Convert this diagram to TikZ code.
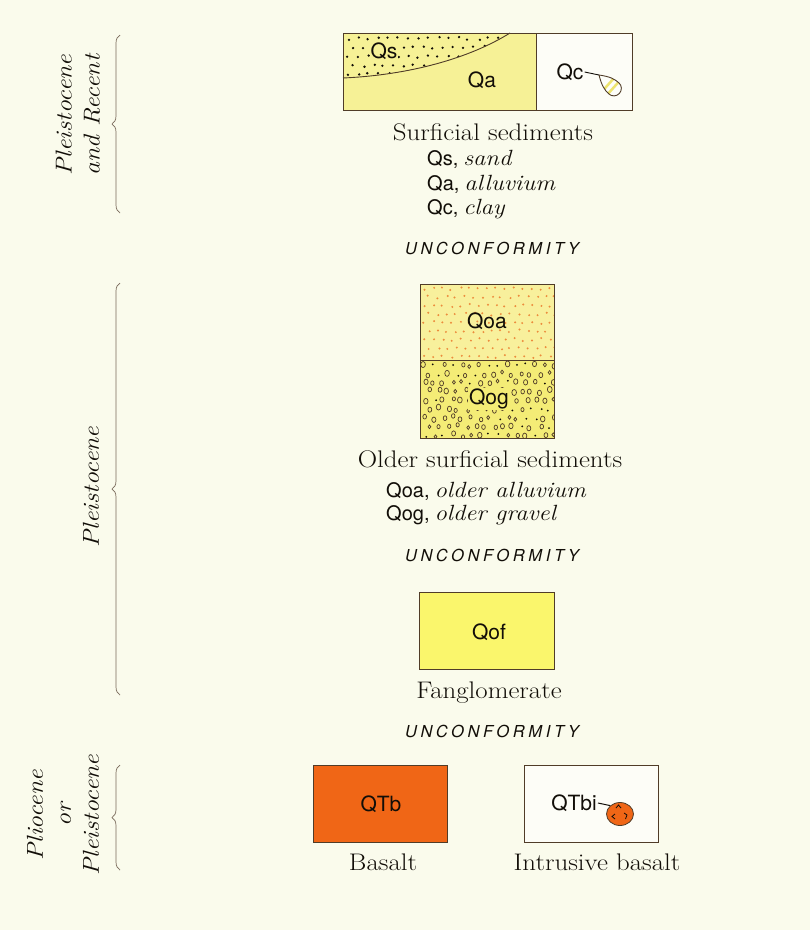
\documentclass[tikz,border=0pt]{standalone}
\usepackage{fontspec}
\usepackage{graphicx}
\usetikzlibrary{decorations.pathreplacing,shapes.geometric}
\newfontfamily\hv{TeX Gyre Heros}
\newfontfamily\hvsp[LetterSpace=22]{TeX Gyre Heros}
\definecolor{bg}{RGB}{250,251,236}
\definecolor{ink}{RGB}{18,14,8}
\definecolor{edge}{RGB}{80,60,40}
\definecolor{bracec}{RGB}{120,105,90}
\definecolor{qa}{RGB}{246,241,150}
\definecolor{qoa}{RGB}{248,240,156}
\definecolor{qodot}{RGB}{236,140,60}
\definecolor{qog}{RGB}{244,236,118}
\definecolor{qof}{RGB}{250,246,108}
\definecolor{qtb}{RGB}{240,102,22}
\definecolor{qcstripe}{RGB}{238,228,110}
\newcommand\hwide[1]{\scalebox{1.12}[1]{#1}}
\newcommand\dsans[1]{{\hv\fontsize{20}{22}\selectfont #1}}
\newcommand\dital[1]{\hspace{5pt}\scalebox{1.12}[1]{\fontsize{22}{24}\selectfont\itshape #1}}
\newcommand\agewide[1]{\scalebox{1.12}[1]{#1}}
\tikzset{
  unitbox/.style={draw=edge, line width=0.8pt},
  boxlabel/.style={font=\hv\fontsize{21}{23}\selectfont, text=ink, inner sep=0},
  head/.style={font=\fontsize{24}{27}\selectfont, text=ink, inner sep=0, anchor=base},
  desc/.style={anchor=base west, inner sep=0, text=ink},
  unc/.style={font=\hvsp\itshape\fontsize{16.5}{19}\selectfont, text=ink, inner sep=0, anchor=base},
  agelabel/.style={rotate=90, align=center, font=\itshape\fontsize{23}{28}\selectfont, text=ink, inner sep=0},
  agebrace/.style={draw=bracec, line width=0.7pt, decorate, decoration={brace, amplitude=8pt}}
}
\begin{document}
\begin{tikzpicture}[x=1pt,y=-1pt]
\fill[bg] (0,0) rectangle (810,930);
\useasboundingbox (0,0) rectangle (810,930);

% ---------- Surficial sediments box ----------
\fill[qa] (343,33) rectangle (536,110);
\fill[white!60!bg] (536,33) rectangle (632,110);
\begin{scope}
  \clip (343,33) -- (343,78) .. controls (410,75) and (470,58) .. (510,33) -- cycle;
  \pgfmathsetseed{11}
  \foreach \i in {0,...,16}{
    \foreach \j in {0,...,4}{
      \pgfmathsetmacro\px{347+10*\i+5*mod(\j,2)+3*rnd}
      \pgfmathsetmacro\py{37+9*\j+3*rnd}
      \fill[ink] (\px,\py) circle (1.3pt);
    }
  }
\end{scope}
\draw[edge, line width=0.9pt] (343,78) .. controls (410,75) and (470,58) .. (510,33);
\draw[unitbox] (343,33) rectangle (632,110);
\draw[unitbox] (536,33) -- (536,110);
\node[boxlabel, fill=qa, inner sep=1pt] (qs) at (384,51) {Qs};
\node[boxlabel] (qa) at (482,80) {Qa};
\node[boxlabel] (qc) at (570,72) {Qc};
% clay lens
\begin{scope}[shift={(599,75)}, rotate=-42]
  \coordinate (lensTip) at (0,0);
  \fill[white!70!bg] (0,0) .. controls (9,-6) and (14,-7.5) .. (20,-7.5)
     arc[start angle=90, end angle=-90, radius=7.5pt] .. controls (14,7.5) and (9,6) .. (0,0);
  \begin{scope}
    \clip (0,0) .. controls (9,-6) and (14,-7.5) .. (20,-7.5)
       arc[start angle=90, end angle=-90, radius=7.5pt] .. controls (14,7.5) and (9,6) .. (0,0);
    \fill[qcstripe] (12,-9) rectangle (14.5,9);
    \fill[qcstripe] (18,-9) rectangle (20.5,9);
  \end{scope}
  \draw[edge, line width=0.9pt] (0,0) .. controls (9,-6) and (14,-7.5) .. (20,-7.5)
     arc[start angle=90, end angle=-90, radius=7.5pt] .. controls (14,7.5) and (9,6) .. (0,0);
\end{scope}
\draw[ink, line width=0.9pt] (qc.east) ++(1,0) coordinate (qcl) (qcl) -- (lensTip);

\node[head] (surf) at (493,140) {\hwide{Surficial sediments}};
\node[desc] (d1) at (427,165) {\dsans{Qs,}\dital{sand}};
\node[desc] (d2) at (427,190) {\dsans{Qa,}\dital{alluvium}};
\node[desc] (d3) at (427,214) {\dsans{Qc,}\dital{clay}};
\node[unc] (u1) at (492,254) {UNCONFORMITY};

% ---------- Older surficial sediments ----------
\fill[qoa] (420,284) rectangle (554,360);
\fill[qog] (420,360) rectangle (554,438);
\begin{scope}
  \clip (420,284) rectangle (554,360);
  \pgfmathsetseed{5}
  \foreach \i in {0,...,14}{
    \foreach \j in {0,...,8}{
      \pgfmathsetmacro\px{423+9*\i+4.5*mod(\j,2)+3*rnd}
      \pgfmathsetmacro\py{287+8.5*\j+3*rnd}
      \fill[qodot] (\px,\py) circle (1.1pt);
    }
  }
\end{scope}
\begin{scope}
  \clip (420,360) rectangle (554,438);
  \pgfmathsetseed{23}
  \foreach \i in {0,...,14}{
    \foreach \j in {0,...,8}{
      \pgfmathsetmacro\px{423+9.2*\i+4.6*mod(\j,2)+4*rnd}
      \pgfmathsetmacro\py{363+8.8*\j+4*rnd}
      \pgfmathsetmacro\rr{1.4+1.0*rnd}
      \pgfmathsetmacro\ry{1.3*\rr}
      \pgfmathsetmacro\kind{rnd}
      \ifdim\kind pt<0.25pt
        \fill[ink] (\px,\py) circle (1.0pt);
      \else
        \draw[edge, line width=0.7pt] (\px,\py) ellipse [x radius=\rr pt, y radius=\ry pt];
      \fi
    }
  }
\end{scope}
\draw[unitbox] (420,284) rectangle (554,438);
\draw[unitbox] (420,360) -- (554,360);
\node[boxlabel] (qoa) at (487,321) {Qoa};
\node[boxlabel, fill=qog, inner sep=1pt] (qog) at (489,399) {Qog};

\node[head] (older) at (490,467) {\hwide{Older surficial sediments}};
\node[desc] (d4) at (386,497) {\dsans{Qoa,}\dital{older alluvium}};
\node[desc] (d5) at (386,520) {\dsans{Qog,}\dital{older gravel}};
\node[unc] (u2) at (492,561) {UNCONFORMITY};

% ---------- Fanglomerate ----------
\fill[qof] (419,592) rectangle (554,669);
\draw[unitbox] (419,592) rectangle (554,669);
\node[boxlabel] (qof) at (489,632) {Qof};
\node[head] (fang) at (489,698) {\hwide{Fanglomerate}};
\node[unc] (u3) at (492,737) {UNCONFORMITY};

% ---------- Basalt ----------
\fill[qtb] (313,765) rectangle (447,842);
\draw[unitbox] (313,765) rectangle (447,842);
\node[boxlabel] (qtb) at (381,804) {QTb};
\node[head] (bas) at (383,870) {\hwide{Basalt}};

\fill[white!60!bg] (524,765) rectangle (658,842);
\draw[unitbox] (524,765) rectangle (658,842);
\node[boxlabel] (qtbi) at (574,803) {QTbi};
\node[draw=edge, fill=qtb, line width=0.8pt, ellipse, minimum width=27pt, minimum height=23pt, inner sep=0] (blob) at (620,814) {};
\draw[ink, line width=0.8pt] (616,808) -- (618.5,805) -- (621,808);
\draw[ink, line width=0.8pt] (615,814) -- (612,816.5) -- (615,819);
\draw[ink, line width=0.8pt] (624,813) -- (627,815) -- (625.5,819);
\draw[ink, line width=1pt] (qtbi.east) ++(1,0) coordinate (qtl) (qtl) -- (blob.north west);
\node[head] (intr) at (597,870) {\hwide{Intrusive basalt}};

% ---------- Age braces ----------
\coordinate (b1s) at (120,213); \coordinate (b1e) at (120,35);
\draw[agebrace] (b1s) -- (b1e);
\node[agelabel] (age1) at (78,115) {\agewide{Pleistocene}\\\agewide{and Recent}};
\coordinate (b2s) at (120,695); \coordinate (b2e) at (120,283);
\draw[agebrace] (b2s) -- (b2e);
\node[agelabel] (age2) at (91,487) {\agewide{Pleistocene}};
\coordinate (b3s) at (120,870); \coordinate (b3e) at (120,765);
\draw[agebrace] (b3s) -- (b3e);
\node[agelabel] (age3) at (63,815) {\agewide{Pliocene}\\\agewide{or}\\\agewide{Pleistocene}};
\end{tikzpicture}
\end{document}
